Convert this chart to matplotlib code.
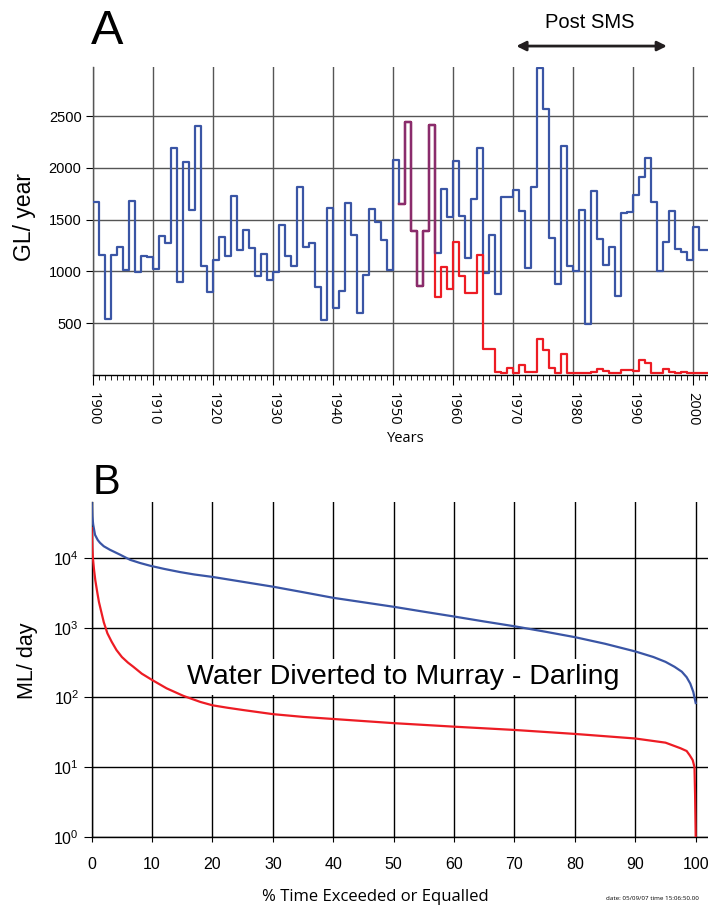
import numpy as np
import matplotlib
matplotlib.use("Agg")
import matplotlib.pyplot as plt
from matplotlib.ticker import MultipleLocator, FixedLocator, NullLocator

plt.rcParams['font.family'] = ['Liberation Sans', 'DejaVu Sans']
plt.rcParams['mathtext.default'] = 'regular'

# ---------------- Data: panel A (annual flow, GL/year) ----------------
blue_years = list(range(1900, 2003))
blue_flow = [1668, 1162, 544, 1159, 1240, 1011, 1681, 995, 1146, 1143,
             1024, 1346, 1275, 2193, 898, 2061, 1594, 2405, 1056, 805,
             1111, 1333, 1146, 1732, 1204, 1397, 1230, 953, 1169, 914,
             998, 1452, 1153, 1053, 1813, 1240, 1275, 850, 528, 1610,
             644, 815, 1665, 1352, 599, 969, 1600, 1481, 1301, 1011,
             2080, 1655, 2447, 1391, 863, 1394, 2418, 1178, 1800, 1523,
             2064, 1539, 1127, 1697, 2196, 982, 1356, 779, 1716, 1722,
             1784, 1587, 1030, 1819, 2965, 2566, 1320, 879, 2209, 1050,
             1005, 1594, 493, 1777, 1311, 1063, 1233, 766, 1565, 1578,
             1742, 1909, 2099, 1674, 1008, 1288, 1584, 1214, 1185, 1111,
             1426, 1211, 1211]

red_years = list(range(1951, 2003))
red_flow = [1655, 2447, 1391, 863, 1394, 2418, 750, 1046, 834, 1280,
            959, 788, 791, 1160, 255, 255, 26, 16, 64, 22,
            96, 29, 29, 348, 241, 64, 16, 203, 22, 16,
            16, 16, 32, 55, 39, 16, 16, 48, 48, 42,
            145, 119, 22, 22, 55, 26, 22, 32, 16, 22,
            22, 22]

year_ticks = list(range(1900, 2001, 10))
flow_ticks = [500, 1000, 1500, 2000, 2500]

# ---------------- Data: panel B (flow duration, ML/day) ----------------
blue_pct = [0, 0.1, 0.25, 0.55, 1.0, 1.37, 2, 3, 4.7, 6.35, 8, 9.7, 12,
            14.6, 17, 20, 25, 30, 35, 40, 45, 50, 55, 60, 65, 70, 75, 80,
            85, 90, 93, 95, 96.5, 97.7, 98.5, 99.1, 99.6, 100]
blue_dur = [64600, 39800, 30200, 21600, 18200, 16600, 14800, 13200, 11200,
            9460, 8510, 7760, 7000, 6310, 5820, 5370, 4570, 3890, 3240,
            2690, 2320, 2000, 1700, 1450, 1230, 1050, 881, 733, 589, 457,
            380, 324, 275, 234, 195, 158, 120, 83]
red_pct = [0, 0.1, 0.2, 0.39, 0.6, 0.94, 1.2, 1.5, 2.0, 2.6, 3.3, 4.1, 5.0,
           6.0, 6.9, 8.3, 10, 12.4, 15.2, 18, 20, 22.5, 25, 30, 35, 40, 50,
           60, 70, 80, 90, 95, 97.5, 98.5, 99, 99.5, 99.8, 99.9, 100]
red_dur = [26900, 14100, 10000, 6760, 4790, 3160, 2340, 1820, 1200, 832,
           631, 479, 380, 316, 275, 219, 178, 135, 105, 86, 77, 71, 66,
           57.5, 52.5, 49, 42.7, 38, 34.1, 29.9, 25.7, 22.4, 18.6, 17,
           14.8, 12.6, 10, 4, 1]
pct_ticks = list(range(0, 101, 10))
dur_ticks = [1, 10, 100, 1000, 10000]

BLUE = '#3a55a5'
RED = '#ed1c24'
PURPLE = '#8a2c6c'
GRID_A = '#555555'
MYRIAD = ['Open Sans', 'DejaVu Sans']

W, H = 708, 907
fig = plt.figure(figsize=(W / 100, H / 100), dpi=100)

def fx(px):
    return px / W

def fy(py):
    return 1 - py / H

# ---------------- Panel A ----------------
ax1 = fig.add_axes([fx(92.7), fy(375), fx(708 - 92.7), (375 - 67) / H])
ax1.set_xlim(1900, 2002.55)
ax1.set_ylim(0, 2975)

bx = blue_years + [blue_years[-1] + 1]
by = blue_flow + [blue_flow[-1]]
ax1.plot(bx, by, drawstyle='steps-post', color=BLUE, lw=1.6, zorder=3)
rx = red_years + [red_years[-1] + 1]
ry = red_flow + [red_flow[-1]]
ax1.plot(rx, ry, drawstyle='steps-post', color=RED, lw=1.6, zorder=4)

# overlap (red == blue) drawn purple
ov_x, ov_y = [], []
for yr, rv in zip(red_years, red_flow):
    bv = blue_flow[blue_years.index(yr)]
    ov_x.append(yr)
    if rv == bv:
        ov_y.append(rv)
    else:
        ov_y.append(max(rv, bv))
        break
ax1.plot(ov_x, ov_y, drawstyle='steps-post', color=PURPLE, lw=1.6, zorder=5)

ax1.xaxis.set_major_locator(FixedLocator(year_ticks))
ax1.xaxis.set_minor_locator(MultipleLocator(1))
ax1.yaxis.set_major_locator(FixedLocator(flow_ticks))
ax1.grid(True, which='major', color=GRID_A, lw=1.0)
for s in ['top', 'right']:
    ax1.spines[s].set_visible(False)
ax1.spines['left'].set_color(GRID_A)
ax1.spines['left'].set_linewidth(1.0)
ax1.spines['bottom'].set_color('black')
ax1.spines['bottom'].set_linewidth(1.0)
ax1.tick_params(axis='x', which='major', length=7, width=0.8, pad=5,
                labelsize=10.5, labelrotation=270)
ax1.tick_params(axis='x', which='minor', length=3.5, width=0.6)
ax1.tick_params(axis='y', which='major', length=5, width=0.8, pad=3,
                labelsize=10.5)
ax1.set_xticklabels([str(y) for y in year_ticks], family=MYRIAD,
                    rotation=270, va='top', ha='center')
ax1.set_yticklabels([str(v) for v in flow_ticks])

ax1.annotate('', xy=(1970.6, 1.068), xytext=(1995.7, 1.068),
             xycoords=('data', 'axes fraction'),
             textcoords=('data', 'axes fraction'),
             arrowprops=dict(arrowstyle='<|-|>', color='#231f20', lw=2,
                             mutation_scale=14, shrinkA=0, shrinkB=0),
             annotation_clip=False)
ax1.text(1982.9, 1.146, 'Post SMS', transform=ax1.get_xaxis_transform(),
         ha='center', va='center', fontsize=14.5, clip_on=False)

fig.text(fx(107), fy(31), 'A', ha='center', va='center', fontsize=35)
fig.text(fx(25), fy(217), 'GL/ year', ha='center', va='center',
         rotation=90, fontsize=16.5)
fig.text(fx(406), fy(438), 'Years', ha='center', va='center',
         fontsize=10.5, family=MYRIAD)

# ---------------- Panel B ----------------
ax2 = fig.add_axes([fx(91.7), fy(836.7), fx(708 - 91.7),
                    (836.7 - 501.7) / H])
ax2.set_yscale('log')
ax2.set_xlim(0, (708 - 91.7) / 6.04)
ax2.set_ylim(1, 10 ** 4.81)
ax2.plot(blue_pct, blue_dur, color=BLUE, lw=1.6, zorder=7)
ax2.plot(red_pct, red_dur, color=RED, lw=1.6, zorder=7)

ax2.xaxis.set_major_locator(FixedLocator(pct_ticks))
ax2.yaxis.set_major_locator(FixedLocator(dur_ticks))
ax2.yaxis.set_minor_locator(NullLocator())
ax2.set_yticklabels([r'$10^{%d}$' % int(np.log10(v)) for v in dur_ticks])
ax2.set_xticklabels([str(p) for p in pct_ticks])
ax2.grid(True, which='major', color='black', lw=1.0)
for s in ['top', 'right']:
    ax2.spines[s].set_visible(False)
for s in ['left', 'bottom']:
    ax2.spines[s].set_color('black')
    ax2.spines[s].set_linewidth(1.0)
ax2.tick_params(axis='x', length=3.5, width=0.8, pad=11, labelsize=11.5)
ax2.tick_params(axis='y', length=6, width=0.8, pad=3, labelsize=11.5)

ax2.text(51.5, 196, 'Water Diverted to Murray - Darling', ha='center',
         va='center', fontsize=20.5, zorder=6,
         bbox=dict(boxstyle='square,pad=0.16', fc='white', ec='none'))

fig.text(fx(28), fy(661), 'ML/ day', ha='center', va='center',
         rotation=90, fontsize=15.5)
fig.text(fx(107), fy(483), 'B', ha='center', va='center', fontsize=30)
fig.text(fx(375), fy(897), '% Time Exceeded or Equalled', ha='center',
         va='center', fontsize=12, family=MYRIAD)
fig.text(fx(652), fy(899), 'date: 05/09/07 time 15:06:50.00', ha='center',
         va='center', fontsize=4.5, family=MYRIAD)

fig.savefig('out.png', dpi=100)
